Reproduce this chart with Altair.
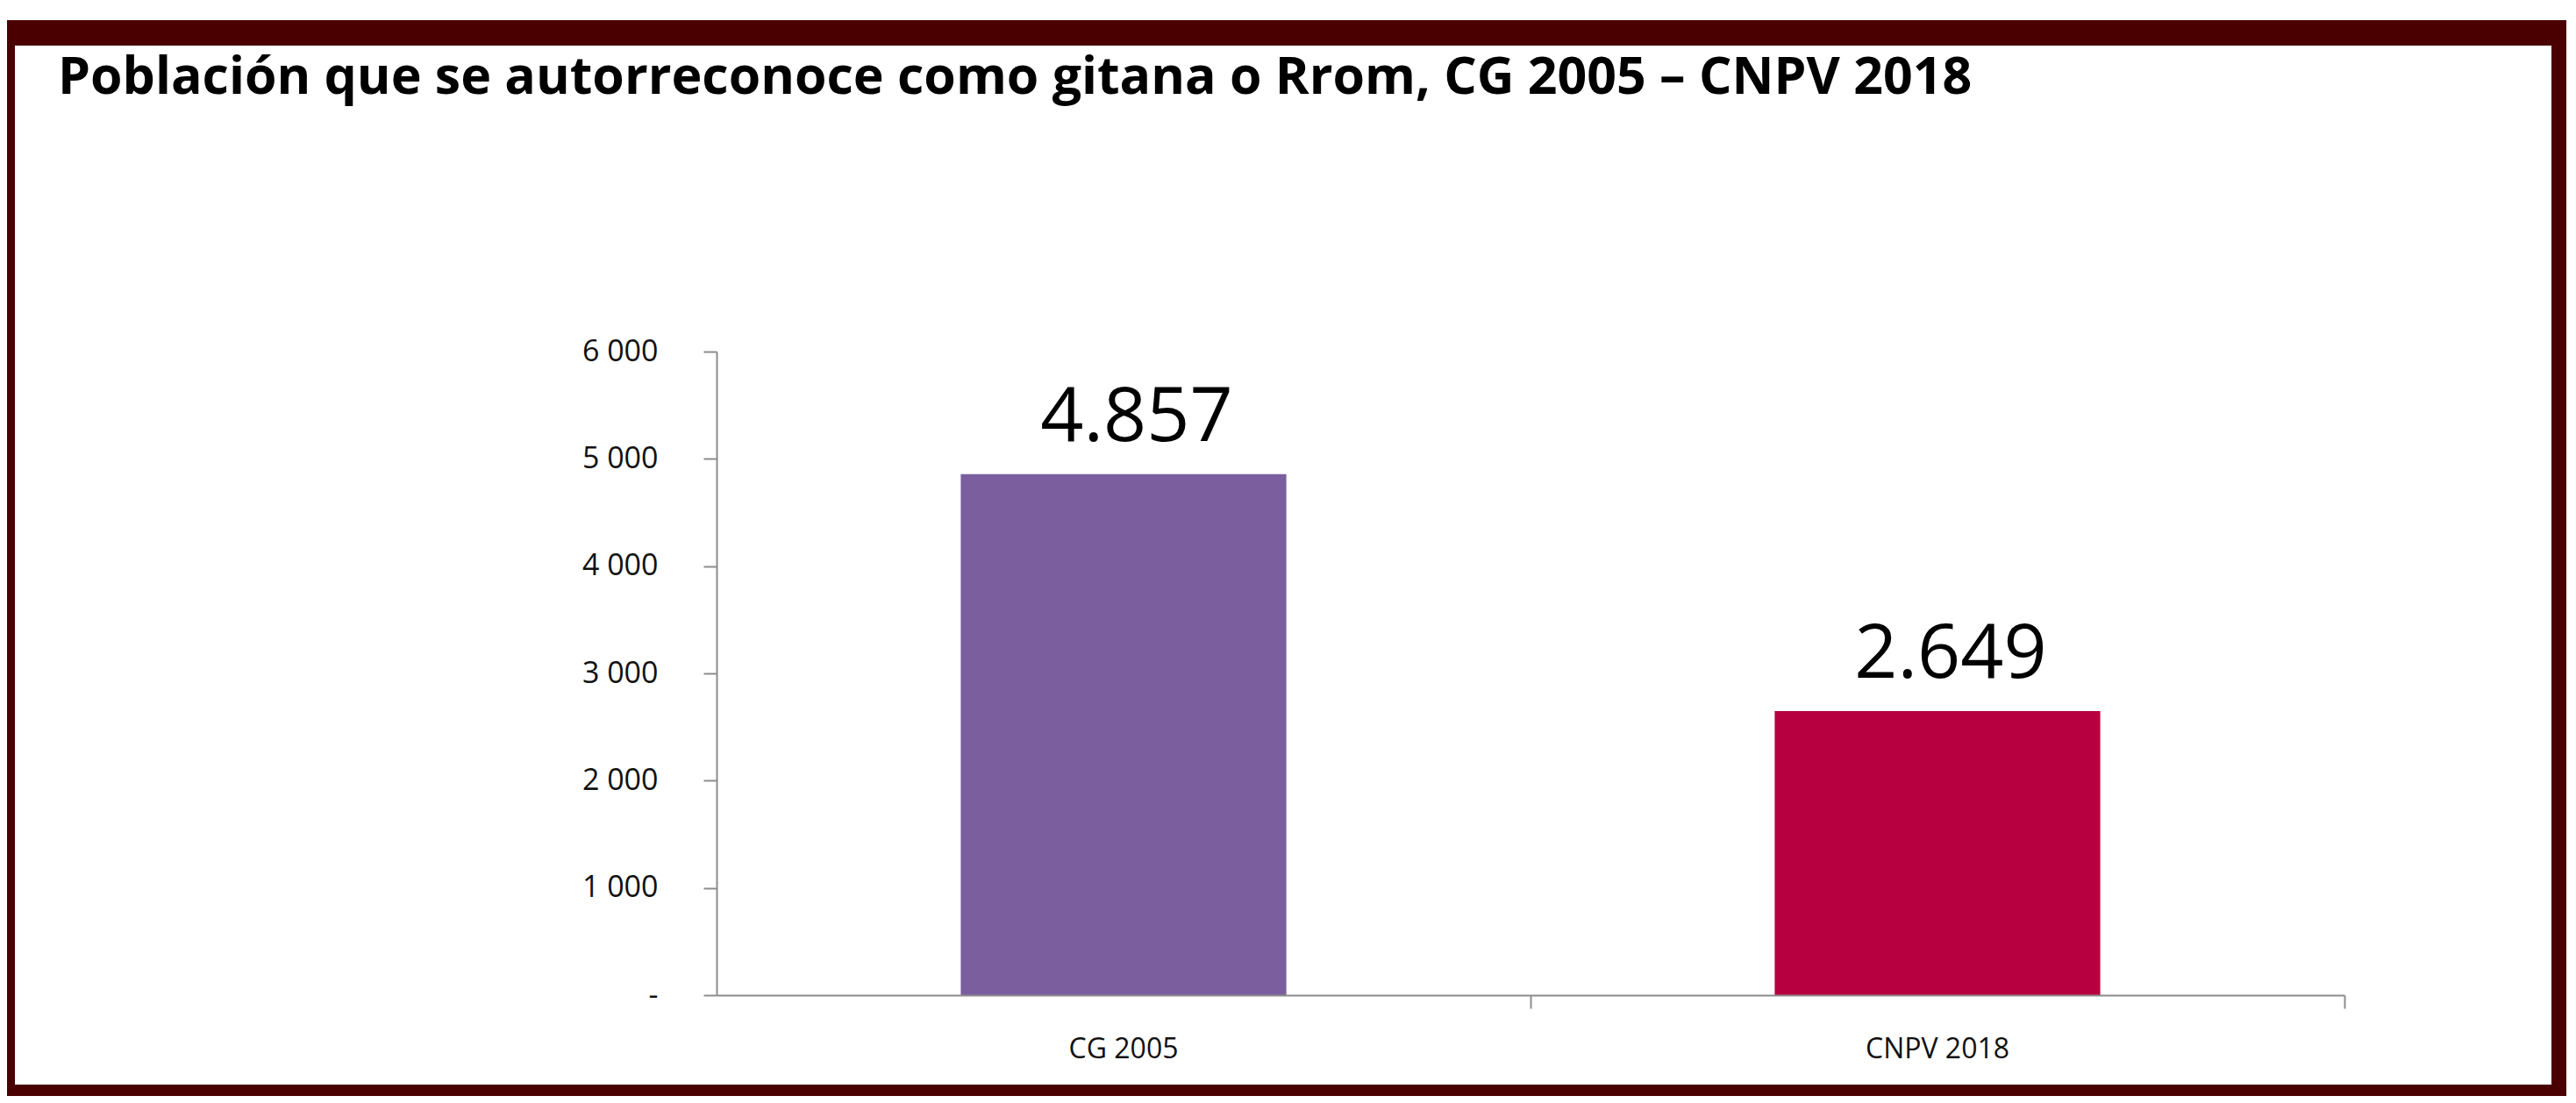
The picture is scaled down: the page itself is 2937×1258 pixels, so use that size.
import altair as alt
import pandas as pd

categories = ["CG 2005", "CNPV 2018"]
values = [4857, 2649]
colors = ["#7b5e9e", "#b60040"]
y_ticks = [0, 1000, 2000, 3000, 4000, 5000, 6000]
title_text = "Población que se autorreconoce como gitana o Rrom, CG 2005 – CNPV 2018"

df = pd.DataFrame({"cat": categories, "val": values, "color": colors})

W, H = 1856, 734
PAD = {"left": 809, "top": 393, "right": 2918 - 809 - W, "bottom": 1242 - 393 - H}

one = pd.DataFrame({"a": [0]})

frame_outer = alt.Chart(one).mark_rect(color="#4a0000").encode(
    x=alt.value(-809), x2=alt.value(2918 - 809), y=alt.value(-378), y2=alt.value(1242 - 393)
)
frame_inner = alt.Chart(one).mark_rect(color="#ffffff").encode(
    x=alt.value(-800), x2=alt.value(2092), y=alt.value(-349), y2=alt.value(836)
)

xscale = alt.Scale(domain=categories, paddingInner=0.6, paddingOuter=0.3)
yscale = alt.Scale(domain=[0, 6000], nice=False)

bars = alt.Chart(df).mark_bar().encode(
    x=alt.X("cat:N", sort=categories, scale=xscale, title=None,
            axis=alt.Axis(orient="bottom", labelAngle=0, ticks=False, domain=True, domainColor="#8c8c8c",
                          domainWidth=2, labelFont="Open Sans", labelFontSize=32, labelFontWeight=500,
                          labelColor="#111111", labelPadding=46, grid=False, zindex=2)),
    y=alt.Y("val:Q", scale=yscale, title=None,
            axis=alt.Axis(orient="left", values=y_ticks, grid=False, domainColor="#8c8c8c", domainWidth=2,
                          tickColor="#8c8c8c", tickWidth=2, tickSize=15, labelPadding=52,
                          labelFont="Open Sans", labelFontSize=34, labelFontWeight=500,
                          labelColor="#111111", zindex=2,
                          labelExpr="datum.value == 0 ? '-' : replace(format(datum.value, ','), ',', ' ')")),
    color=alt.Color("color:N", scale=None),
)

labels = alt.Chart(df).transform_calculate(
    lab="replace(format(datum.val, ','), ',', '.')"
).mark_text(font="Open Sans", fontSize=86, color="#000000", baseline="alphabetic", dy=-38, dx=15).encode(
    x=alt.X("cat:N", sort=categories, scale=xscale, title=None,
            axis=alt.Axis(orient="bottom", labels=False, domain=False, ticks=True, tickColor="#8c8c8c",
                          tickWidth=2, tickSize=15, bandPosition=1.75, grid=False, zindex=2)),
    y=alt.Y("val:Q", scale=yscale, title=None),
    text="lab:N",
)

chart = alt.layer(frame_outer, frame_inner, bars, labels).resolve_axis(x="independent").properties(
    width=W, height=H,
    autosize=alt.AutoSizeParams(type="none"),
    padding=PAD,
    title=alt.TitleParams(title_text, anchor="start", dx=58, dy=143, font="Open Sans",
                          fontSize=59, fontWeight="bold", color="#000000", offset=0,
                          baseline="alphabetic", zindex=3),
).configure_view(stroke=None).configure(background="#ffffff")

chart.save("out.html", embed_options={"renderer": "svg", "actions": False})
